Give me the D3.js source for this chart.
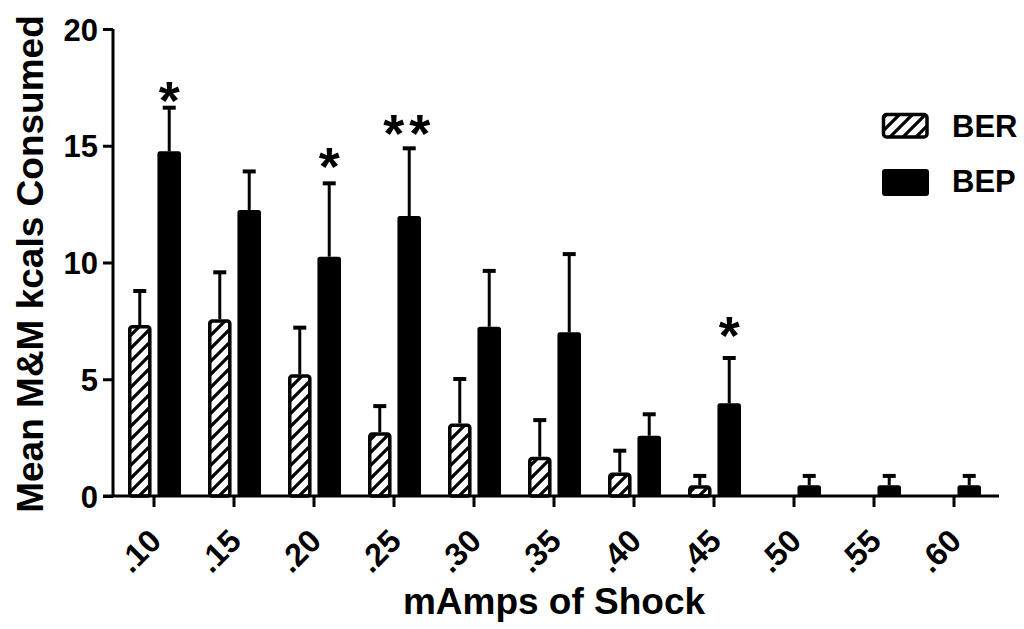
<!DOCTYPE html>
<html>
<head>
<meta charset="utf-8">
<script src="https://cdn.jsdelivr.net/npm/d3@7"></script>
<style>
  html, body { margin: 0; padding: 0; background: #ffffff; }
  svg { display: block; }
  text { font-family: "Liberation Sans", Arial, Helvetica, sans-serif; font-weight: bold; fill: #000; }
</style>
</head>
<body>
<svg id="chart" width="1024" height="629"></svg>
<script>
// ---- data ----
const categories = [".10", ".15", ".20", ".25", ".30", ".35", ".40", ".45", ".50", ".55", ".60"];
const seriesNames = ["BER", "BEP"];
const berMean = [7.32, 7.57, 5.21, 2.73, 3.11, 1.68, 1.01, 0.46, 0, 0, 0];
const berSem  = [1.46, 2.01, 2.00, 1.12, 1.90, 1.57, 0.93, 0.40, 0, 0, 0];
const bepMean = [14.76, 12.25, 10.25, 11.99, 7.25, 7.01, 2.58, 3.97, 0.46, 0.46, 0.46];
const bepSem  = [1.87, 1.65, 3.14, 2.90, 2.39, 3.35, 0.92, 1.94, 0.40, 0.40, 0.40];
const sigLabels = ["*", "", "*", "**", "", "", "", "*", "", "", ""];
const sigY      = [17.4, null, 14.6, 16.0, null, null, null, 7.37, null, null, null];
const yTicks = [0, 5, 10, 15, 20];
const yTitle = "Mean M&M kcals Consumed";
const xTitle = "mAmps of Shock";

// ---- layout ----
const svg = d3.select("#chart");
const x = d3.scaleBand().domain(categories).range([114, 994]).padding(0);
const xs = d3.scaleBand().domain(seriesNames).range([-26, 27]).paddingInner(0.2);
const y = d3.scaleLinear().domain([0, 20]).range([496, 29]);

// hatch pattern
const defs = svg.append("defs");
const pat = defs.append("pattern")
  .attr("id", "hatch").attr("patternUnits", "userSpaceOnUse")
  .attr("width", 13).attr("height", 13);
pat.append("rect").attr("width", 13).attr("height", 13).attr("fill", "#fff");
pat.append("path")
  .attr("d", "M0,13 L13,0 M-3,3 L3,-3 M10,16 L16,10")
  .attr("stroke", "#000").attr("stroke-width", 3.2);

const rows = categories.map((c, i) => ({
  cat: c,
  vals: [
    { s: "BER", m: berMean[i], e: berSem[i] },
    { s: "BEP", m: bepMean[i], e: bepSem[i] }
  ]
}));

const g = svg.append("g");
const grp = g.selectAll("g.cat").data(rows).enter().append("g")
  .attr("transform", d => `translate(${x(d.cat) + x.bandwidth() / 2},0)`);

const bars = grp.selectAll("g.bar").data(d => d.vals.filter(v => v.m > 0)).enter().append("g");

// error bars (upper only)
bars.append("line")
  .attr("x1", d => xs(d.s) + xs.bandwidth() / 2)
  .attr("x2", d => xs(d.s) + xs.bandwidth() / 2)
  .attr("y1", d => y(d.m))
  .attr("y2", d => y(d.m + d.e))
  .attr("stroke", "#000").attr("stroke-width", 3);
bars.append("line")
  .attr("x1", d => xs(d.s) + xs.bandwidth() / 2 - 6.5)
  .attr("x2", d => xs(d.s) + xs.bandwidth() / 2 + 6.5)
  .attr("y1", d => y(d.m + d.e))
  .attr("y2", d => y(d.m + d.e))
  .attr("stroke", "#000").attr("stroke-width", 4);

// bars
bars.append("rect")
  .attr("x", d => d.s === "BER" ? xs(d.s) + 1.75 : xs(d.s))
  .attr("width", d => d.s === "BER" ? xs.bandwidth() - 3.5 : xs.bandwidth())
  .attr("y", d => d.s === "BER" ? y(d.m) + 1.75 : y(d.m))
  .attr("height", d => d.s === "BER" ? Math.max(0, y(0) - y(d.m) - 1.75) : y(0) - y(d.m))
  .attr("rx", 2.5)
  .attr("fill", d => d.s === "BER" ? "url(#hatch)" : "#000")
  .attr("stroke", d => d.s === "BER" ? "#000" : "none")
  .attr("stroke-width", 3.5);

// significance stars
const starSize = 54;
g.selectAll("text.sig").data(categories.map((c, i) => ({ c, t: sigLabels[i], v: sigY[i] })).filter(d => d.t))
  .enter().append("text")
  .attr("x", d => x(d.c) + x.bandwidth() / 2 + xs("BEP") + xs.bandwidth() / 2)
  .attr("y", d => y(d.v) + 0.55 * starSize)
  .attr("text-anchor", "middle")
  .attr("font-size", starSize)
  .attr("letter-spacing", d => d.t.length > 1 ? 5 : 0)
  .text(d => d.t);

// axes
const yAxis = d3.axisLeft(y).tickValues(yTicks).tickSize(10).tickPadding(5).tickFormat(d3.format("d"));
const yg = svg.append("g").attr("transform", "translate(113,0)").call(yAxis);
yg.select(".domain").attr("d", `M0,${y(20)}V${y(0)}`).attr("stroke", "#000").attr("stroke-width", 3);
yg.selectAll(".tick line").attr("stroke", "#000").attr("stroke-width", 3);
yg.selectAll(".tick text").attr("font-size", 31).attr("font-family", "Liberation Sans, Arial, sans-serif")
  .attr("font-weight", "bold").attr("dy", "0.36em");

const xAxis = d3.axisBottom(x).tickSize(11).tickSizeOuter(0);
const xg = svg.append("g").attr("transform", `translate(0,${y(0)})`).call(xAxis);
xg.select(".domain").attr("d", `M103,0H999`).attr("stroke", "#000").attr("stroke-width", 3);
xg.selectAll(".tick line").attr("stroke", "#000").attr("stroke-width", 3);
xg.selectAll(".tick text")
  .attr("font-size", 32).attr("font-family", "Liberation Sans, Arial, sans-serif").attr("font-weight", "bold")
  .attr("text-anchor", "end").attr("dy", 0).attr("y", 0)
  .attr("transform", "translate(9,47) rotate(-45)");

// axis titles
svg.append("text")
  .attr("transform", "translate(43,264) rotate(-90)")
  .attr("text-anchor", "middle").attr("font-size", 37)
  .text(yTitle);
svg.append("text")
  .attr("x", 554).attr("y", 614)
  .attr("text-anchor", "middle").attr("font-size", 37)
  .text(xTitle);

// legend
const legend = svg.append("g");
const legItems = seriesNames.map((s, i) => ({ s, i }));
legend.selectAll("rect").data(legItems).enter().append("rect")
  .attr("x", d => d.s === "BER" ? 883.5 : 882)
  .attr("y", d => (d.s === "BER" ? 114.5 : 169))
  .attr("width", d => d.s === "BER" ? 43.5 : 47)
  .attr("height", d => d.s === "BER" ? 22.5 : 27)
  .attr("rx", 3)
  .attr("fill", d => d.s === "BER" ? "url(#hatch)" : "#000")
  .attr("stroke", d => d.s === "BER" ? "#000" : "none")
  .attr("stroke-width", 3.5);
legend.selectAll("text").data(legItems).enter().append("text")
  .attr("x", 952)
  .attr("y", d => d.s === "BER" ? 137 : 192)
  .attr("font-size", 31)
  .text(d => d.s);
</script>
</body>
</html>
